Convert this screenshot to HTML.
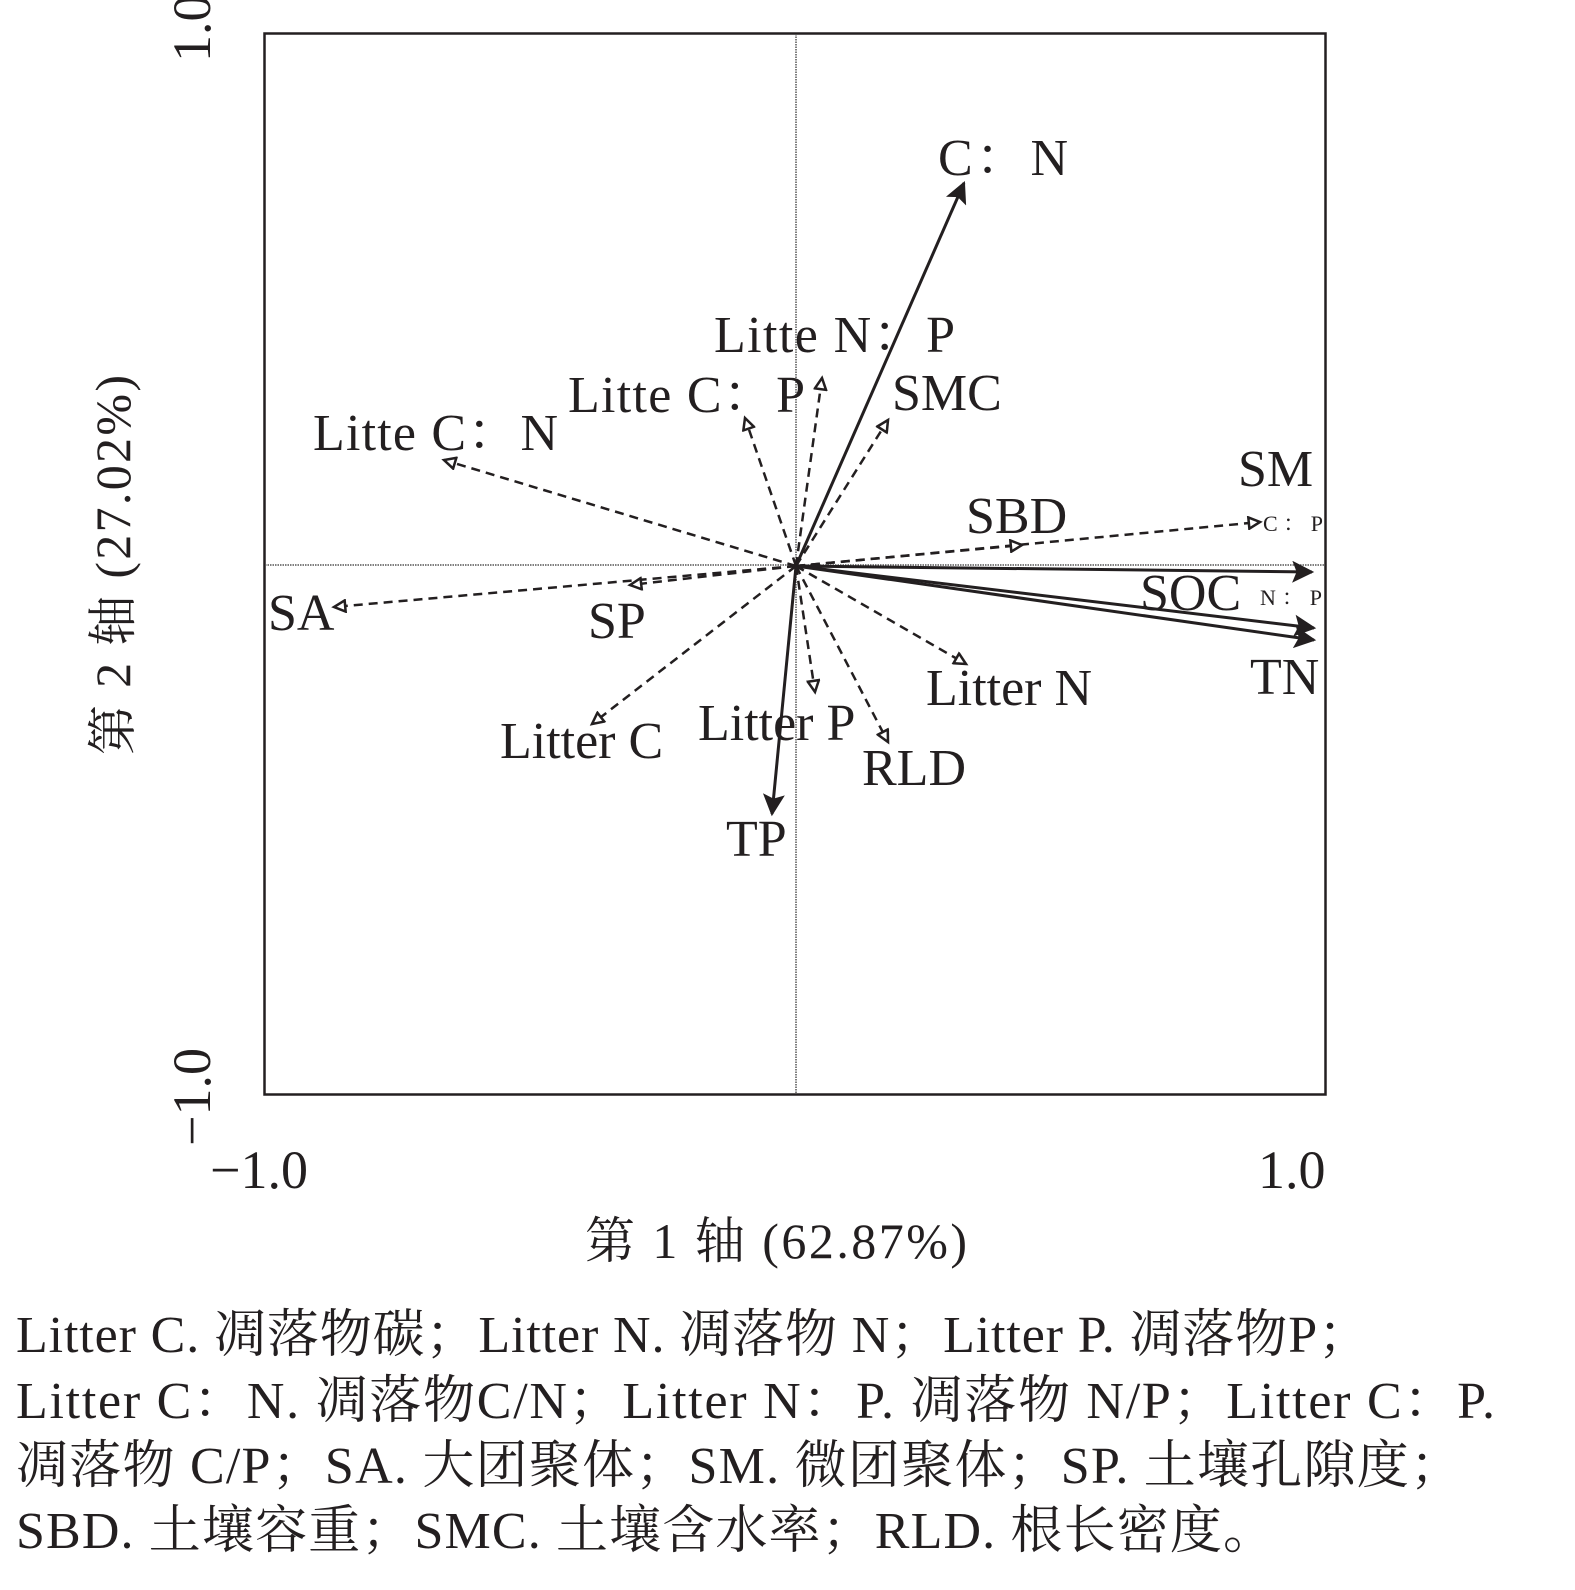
<!DOCTYPE html>
<html><head><meta charset="utf-8"><style>
body{margin:0;background:#fff}
svg{display:block}
text{font-family:"Liberation Serif","Noto Serif CJK SC",serif;fill:#231f20}
</style></head><body>
<svg width="1575" height="1590" viewBox="0 0 1575 1590" xmlns="http://www.w3.org/2000/svg">
<defs>
<marker id="sb" viewBox="0 0 10 10" refX="9" refY="5" markerWidth="28" markerHeight="22" markerUnits="userSpaceOnUse" orient="auto"><path d="M0,0L10,5L0,10L2,5z" fill="#231f20"/></marker>
<marker id="o" viewBox="0 0 10 10" refX="9" refY="5" markerWidth="18" markerHeight="14" markerUnits="userSpaceOnUse" orient="auto"><path d="M1,1L9,5L1,9z" fill="#fff" stroke="#231f20" stroke-width="1.8"/></marker>
</defs>
<rect x="264.5" y="33.5" width="1061" height="1061" fill="none" stroke="#231f20" stroke-width="2.5"/>
<line x1="796" y1="34" x2="796" y2="1094" stroke="#555" stroke-width="1.5" stroke-dasharray="1.5,1"/>
<line x1="265" y1="565" x2="1325" y2="565" stroke="#555" stroke-width="1.5" stroke-dasharray="1.5,1"/>
<g stroke="#231f20" stroke-width="2.5" stroke-dasharray="9,6" fill="none" marker-end="url(#o)">
<line x1="796" y1="566" x2="1260" y2="522"/>
<line x1="796" y1="566" x2="1022" y2="545"/>
<line x1="796" y1="566" x2="444" y2="460"/>
<line x1="796" y1="566" x2="745" y2="418"/>
<line x1="796" y1="566" x2="822" y2="378"/>
<line x1="796" y1="566" x2="888" y2="420"/>
<line x1="796" y1="566" x2="334" y2="607"/>
<line x1="796" y1="566" x2="630" y2="585"/>
<line x1="796" y1="566" x2="592" y2="724"/>
<line x1="796" y1="566" x2="815" y2="692"/>
<line x1="796" y1="566" x2="888" y2="742"/>
<line x1="796" y1="566" x2="966" y2="664"/>
</g>
<g stroke="#231f20" stroke-width="3" fill="none" marker-end="url(#sb)">
<line x1="796" y1="566" x2="964" y2="183"/>
<line x1="796" y1="566" x2="1312" y2="572"/>
<line x1="796" y1="566" x2="1314" y2="628"/>
<line x1="796" y1="566" x2="1314" y2="640"/>
<line x1="796" y1="566" x2="772" y2="814"/>
</g>
<g font-size="52">
<text x="938" y="175" textLength="130" lengthAdjust="spacing">C：N</text>
<text x="714" y="352" textLength="241" lengthAdjust="spacing">Litte N：P</text>
<text x="568" y="412" textLength="237" lengthAdjust="spacing">Litte C：P</text>
<text x="892" y="410">SMC</text>
<text x="313" y="450" textLength="245" lengthAdjust="spacing">Litte C：N</text>
<text x="1238" y="486">SM</text>
<text x="966" y="533">SBD</text>
<text x="1140" y="610">SOC</text>
<text x="1250" y="694">TN</text>
<text x="268" y="630">SA</text>
<text x="588" y="638">SP</text>
<text x="926" y="705">Litter N</text>
<text x="500" y="758">Litter C</text>
<text x="698" y="740">Litter P</text>
<text x="862" y="785">RLD</text>
<text x="726" y="856">TP</text>
</g>
<text x="1263" y="531" font-size="22" textLength="60" lengthAdjust="spacing">C：P</text>
<text x="1260" y="605" font-size="22" textLength="62" lengthAdjust="spacing">N：P</text>
<g font-size="54">
<text x="210" y="1188">−1.0</text>
<text x="1258" y="1188">1.0</text>
<text transform="translate(210,62) rotate(-90)">1.0</text>
<text transform="translate(210,1146) rotate(-90)">−1.0</text>
<text x="585" y="1258" textLength="382" lengthAdjust="spacing" font-size="50">第 1 轴 (62.87%)</text>
<text transform="translate(130,755) rotate(-90)" textLength="380" lengthAdjust="spacing" font-size="50">第 2 轴 (27.02%)</text>
</g>
<g font-size="52">
<text x="16" y="1352" textLength="1354" lengthAdjust="spacing">Litter C. 凋落物碳；Litter N. 凋落物 N；Litter P. 凋落物P；</text>
<text x="16" y="1418" textLength="1479" lengthAdjust="spacing">Litter C：N. 凋落物C/N；Litter N：P. 凋落物 N/P；Litter C：P.</text>
<text x="16" y="1483" textLength="1446" lengthAdjust="spacing">凋落物 C/P；SA. 大团聚体；SM. 微团聚体；SP. 土壤孔隙度；</text>
<text x="16" y="1548" textLength="1259" lengthAdjust="spacing">SBD. 土壤容重；SMC. 土壤含水率；RLD. 根长密度。</text>
</g>
</svg>
</body></html>
